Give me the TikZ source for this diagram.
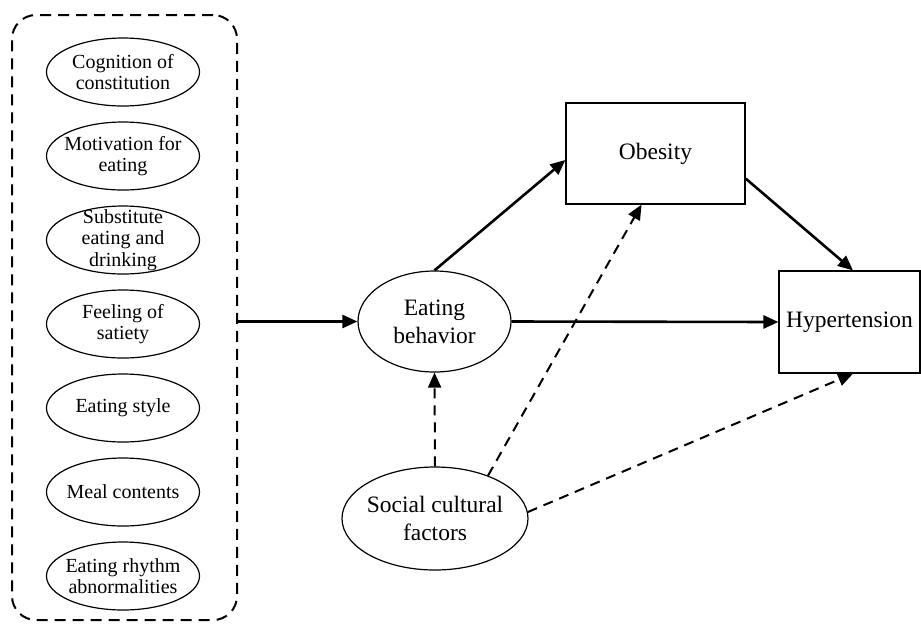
\documentclass[tikz,border=0pt]{standalone}
\usepackage{fontspec}
\setmainfont{Liberation Serif}
\usetikzlibrary{shapes.geometric,arrows.meta}
\tikzset{
  factor/.style={draw, ellipse, line width=1.2pt, minimum width=153pt, minimum height=68pt, inner sep=-40pt, align=center, font=\fontsize{20}{21.5}\selectfont},
  bigell/.style={draw, ellipse, line width=1.2pt, inner sep=-40pt, align=center, font=\fontsize{23.5}{28}\selectfont},
  outbox/.style={draw, rectangle, line width=1.2pt, inner sep=0pt, align=center, font=\fontsize{23.5}{28}\selectfont},
  grpbox/.style={draw, rectangle, rounded corners=24pt, line width=2pt, dash pattern=on 11pt off 7pt, inner sep=0pt},
  solidarrow/.style={line width=2.6pt, -{Triangle[length=15pt,width=13pt]}},
  dasharrow/.style={line width=2pt, dash pattern=on 10pt off 7pt, -{Triangle[length=15pt,width=13pt]}}
}
\begin{document}
\begin{tikzpicture}[x=1pt,y=-1pt]
\useasboundingbox (0,0) rectangle (921,625);
\node[grpbox, minimum width=225pt, minimum height=605pt] (grp) at (124.5,317.5) {};
\node[factor] (f1) at (123,72) {Cognition of\\constitution};
\node[factor] (f2) at (123,156) {Motivation for\\eating};
\node[factor] (f3) at (123,240) {Substitute\\eating and\\drinking};
\node[factor] (f4) at (123,324) {Feeling of\\satiety};
\node[factor] (f5) at (123,408) {Eating style};
\node[factor] (f6) at (123,492) {Meal contents};
\node[factor] (f7) at (123,576) {Eating rhythm\\abnormalities};
\node[bigell, minimum width=153pt, minimum height=101pt] (eb) at (434.5,321.5) {Eating\\behavior};
\node[bigell, minimum width=186pt, minimum height=103pt] (sc) at (435,518.5) {Social cultural\\factors};
\node[outbox, minimum width=179pt, minimum height=101pt] (ob) at (655.5,153.5) {Obesity};
\node[outbox, minimum width=141pt, minimum height=102pt] (hy) at (849.5,322) {Hypertension};
\draw[solidarrow] (grp.east |- eb.west) -- (eb.west);
\draw[solidarrow] (eb.north) -- ([yshift=-6.5pt]ob.west);
\draw[solidarrow] (eb.east) -- (hy.west);
\draw[solidarrow] ([yshift=-25pt]ob.east) -- ([xshift=3.5pt]hy.north);
\draw[dasharrow] (sc.north) -- (eb.south);
\draw[dasharrow] (sc.39) -- ([xshift=-14pt]ob.south);
\draw[dasharrow] (sc.4) -- ([xshift=3.5pt]hy.south);
\end{tikzpicture}
\end{document}
